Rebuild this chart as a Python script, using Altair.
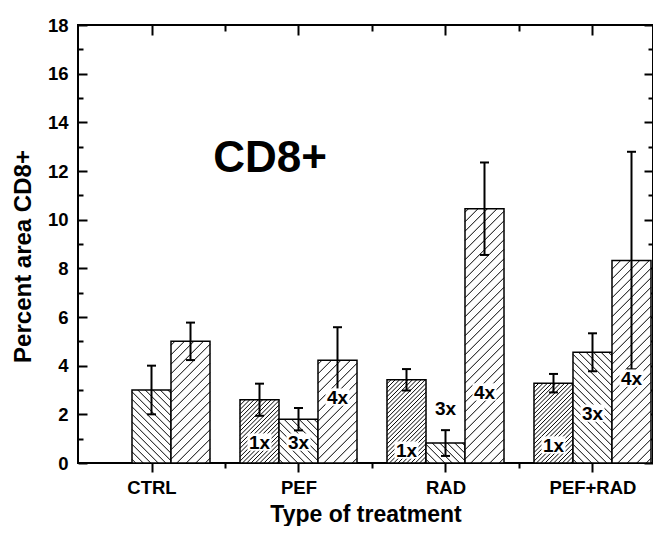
import json
import altair as alt
import pandas as pd
import numpy as np

# ---------------- data ----------------
groups = ["CTRL", "PEF", "RAD", "PEF+RAD"]
doses = ["1x", "3x", "4x"]
mean_1x = [None, 2.60, 3.42, 3.28]
mean_3x = [3.00, 1.80, 0.82, 4.55]
mean_4x = [5.00, 4.22, 10.45, 8.32]
err_1x = [None, 0.66, 0.44, 0.38]
err_3x = [1.00, 0.46, 0.53, 0.78]
err_4x = [0.77, 1.36, 1.90, 4.47]
# where the dose labels sit (y value of label centre)
label_y_1x = [None, 0.86, 0.53, 0.74]
label_y_3x = [None, 0.86, 2.26, 2.05]
label_y_4x = [None, 2.71, 2.92, 3.49]
y_major = list(range(0, 19, 2))
y_minor = list(range(1, 18, 2))
x_minor = [1.5, 2.5, 3.5]
panel_title = "CD8+"
x_title = "Type of treatment"
y_title = "Percent area CD8+"

# ---------------- layout ----------------
W, H = 575, 438
PAD_L, PAD_T, PAD_R, PAD_B = 70, 17, 0, 63
XMIN = 0.5
XMAX = 0.5 + W / 147.0
YMAX = 18
kx = W / (XMAX - XMIN)
ky = H / YMAX
BAR_W = 39 / 147.0
offset = {"1x": -BAR_W, "3x": 0.0, "4x": BAR_W}
hatch_sp = {"1x": 4.3, "3x": 7.5, "4x": 9.5}
hatch_dir = {"1x": 1, "3x": -1, "4x": 1}
CAP = 4.5 / kx
FONT = "Liberation Sans, Arial, sans-serif"

means = {"1x": mean_1x, "3x": mean_3x, "4x": mean_4x}
errs = {"1x": err_1x, "3x": err_3x, "4x": err_4x}
labys = {"1x": label_y_1x, "3x": label_y_3x, "4x": label_y_4x}

rows = []
for gi, g in enumerate(groups):
    for d in doses:
        v = means[d][gi]
        if v is None:
            continue
        c = gi + 1 + offset[d]
        rows.append(dict(group=g, dose=d, xc=c, x0=c - BAR_W / 2, x1=c + BAR_W / 2,
                         v=v, zero=0.0, lo=v - errs[d][gi], hi=v + errs[d][gi],
                         cl=c - CAP, cr=c + CAP, ly=labys[d][gi]))
bars = pd.DataFrame(rows)
labels = bars[bars["ly"].notna()].copy()

# hatch segments derived from each bar's extent
segs = []
for r in rows:
    px0 = (r["x0"] - XMIN) * kx
    w = BAR_W * kx
    h = r["v"] * ky
    s = hatch_sp[r["dose"]]
    if hatch_dir[r["dose"]] > 0:
        c = -w + s / 2
        while c < h:
            xa, xb = max(0.0, -c), min(w, h - c)
            if xb > xa:
                segs.append(dict(xa=XMIN + (px0 + xa) / kx, ya=(xa + c) / ky,
                                 xb=XMIN + (px0 + xb) / kx, yb=(xb + c) / ky))
            c += s
    else:
        c = s / 2
        while c < w + h:
            xa, xb = max(0.0, c - h), min(w, c)
            if xb > xa:
                segs.append(dict(xa=XMIN + (px0 + xa) / kx, ya=(c - xa) / ky,
                                 xb=XMIN + (px0 + xb) / kx, yb=(c - xb) / ky))
            c += s
hatch = pd.DataFrame(segs)

xs = alt.Scale(domain=[XMIN, XMAX], nice=False, zero=False)
ys = alt.Scale(domain=[0, YMAX], nice=False, zero=True)

def ax(**kw):
    base = dict(grid=False, domain=False, tickColor="black", tickWidth=2,
                labels=False, title=None)
    base.update(kw)
    return alt.Axis(**base)

label_expr = json.dumps([""] + groups) + "[datum.value]"

bar_layer = alt.Chart(bars).mark_rect(fill="white", stroke="black", strokeWidth=1.5).encode(
    x=alt.X("x0:Q", scale=xs, axis=alt.Axis(
        orient="bottom", values=[1, 2, 3, 4], labelExpr=label_expr, grid=False, domain=False,
        tickSize=9, tickWidth=2, tickColor="black", labelFont=FONT, labelFontSize=18.5,
        labelFontWeight="bold", labelColor="black", labelPadding=6,
        title=x_title, titleFont=FONT, titleFontSize=23, titleFontWeight="bold",
        titleColor="black", titleBaseline="alphabetic", titleY=58)),
    x2="x1:Q",
    y=alt.Y("v:Q", scale=ys, axis=alt.Axis(
        orient="left", values=y_major, grid=False, domain=False, ticks=False, tickSize=0,
        labelFont=FONT, labelFontSize=18.5, labelFontWeight="bold", labelColor="black",
        labelPadding=10, title=y_title, titleFont=FONT, titleFontSize=24,
        titleFontWeight="bold", titleColor="black", titleBaseline="middle",
        titleX=-55, titleY=231)),
    y2="zero:Q",
)

hatch_layer = alt.Chart(hatch).mark_rule(color="black", strokeWidth=1).encode(
    x=alt.X("xa:Q", scale=xs, axis=ax(orient="bottom", values=x_minor, tickSize=5)),
    x2="xb:Q",
    y=alt.Y("ya:Q", scale=ys, axis=ax(orient="right", offset=-W, values=y_major, tickSize=9)),
    y2="yb:Q",
)

err_layer = alt.Chart(bars).mark_rule(color="black", strokeWidth=2).encode(
    x=alt.X("xc:Q", scale=xs, axis=ax(orient="bottom", offset=-H, values=[1, 2, 3, 4], tickSize=10)),
    y=alt.Y("lo:Q", scale=ys, axis=ax(orient="right", offset=-W, values=y_minor, tickSize=5)),
    y2="hi:Q",
)

cap_lo = alt.Chart(bars).mark_rule(color="black", strokeWidth=2).encode(
    x=alt.X("cl:Q", scale=xs, axis=ax(orient="bottom", offset=-H, values=x_minor, tickSize=6)),
    x2="cr:Q",
    y=alt.Y("lo:Q", scale=ys, axis=ax(orient="left", offset=-W, values=y_major, tickSize=9)),
)
cap_hi = alt.Chart(bars).mark_rule(color="black", strokeWidth=2).encode(
    x=alt.X("cl:Q", scale=xs, axis=None),
    x2="cr:Q",
    y=alt.Y("hi:Q", scale=ys, axis=ax(orient="left", offset=-W, values=y_minor, tickSize=5)),
)

bg_layer = alt.Chart(labels).mark_point(
    shape="M-1,-0.72L1,-0.72L1,0.72L-1,0.72Z", filled=True, color="white",
    opacity=1, size=24 * 24, strokeWidth=0).encode(
    x=alt.X("xc:Q", scale=xs, axis=None),
    y=alt.Y("ly:Q", scale=ys, axis=None),
)

text_layer = alt.Chart(labels).mark_text(
    font=FONT, fontSize=19, fontWeight="bold", color="black", baseline="middle",
    align="center", dy=1).encode(
    x=alt.X("xc:Q", scale=xs, axis=None),
    y=alt.Y("ly:Q", scale=ys, axis=None),
    text="dose:N",
)

title_layer = alt.Chart(pd.DataFrame({"t": [panel_title]})).mark_text(
    font=FONT, fontSize=44, fontWeight="bold", color="black", baseline="middle",
    align="center").encode(
    x=alt.value(192), y=alt.value(134), text="t:N",
)

chart = alt.layer(
    bar_layer, hatch_layer, err_layer, cap_lo, cap_hi, bg_layer, text_layer, title_layer
).resolve_axis(x="independent", y="independent").properties(
    width=W, height=H,
    autosize=alt.AutoSizeParams(type="none"),
    padding={"left": PAD_L, "top": PAD_T, "right": PAD_R, "bottom": PAD_B},
    background="white",
).configure_view(stroke="black", strokeWidth=2)

chart.save("out.html", embed_options={"renderer": "svg", "actions": False})
